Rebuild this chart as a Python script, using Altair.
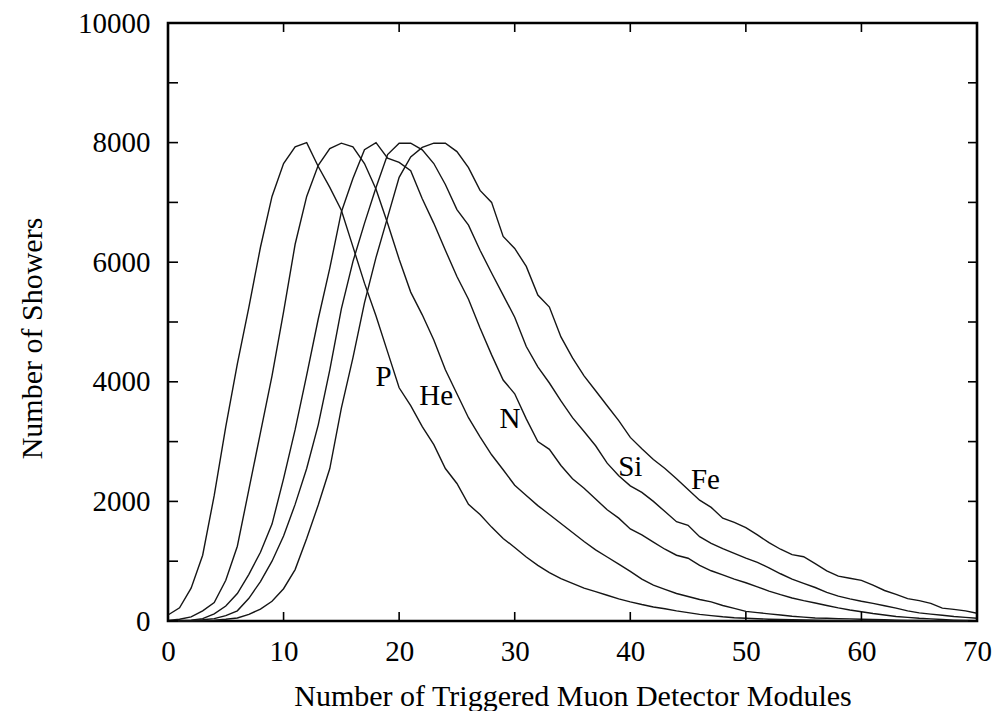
import altair as alt
import pandas as pd

# ---- data ----
modules = list(range(0, 71))

p_counts = [100, 220, 550, 1100, 2100, 3250, 4300, 5250, 6250, 7100, 7650, 7930, 8000,
            7600, 7250, 6870, 6260, 5650, 5100, 4500, 3900,
            3600, 3250, 2950, 2550, 2300, 1950, 1780, 1570, 1380, 1230,
            1070, 930, 810, 710, 630, 550, 490, 430, 370, 320,
            275, 235, 205, 170, 140, 110, 90, 70, 55, 45,
            38, 30, 25, 20, 16, 12, 10, 8, 6, 5,
            4, 3, 3, 2, 2, 1, 1, 1, 0, 0]

he_counts = [10, 30, 70, 170, 310, 680, 1250, 2200, 3150, 4100, 5170,
             6300, 7100, 7620, 7900, 7990, 7930,
             7650, 7220, 6650, 6050, 5500, 5120, 4700, 4200, 3800, 3400, 3080, 2780, 2530, 2270,
             2100, 1930, 1780, 1630, 1480, 1330, 1190, 1070, 950, 830,
             700, 600, 530, 460, 410, 360, 320, 260, 210, 160,
             140, 120, 100, 80, 65, 50, 45, 40, 35, 30,
             25, 20, 15, 10, 8, 6, 4, 3, 2, 1]

n_counts = [0, 5, 15, 40, 120, 250, 460, 780, 1150, 1620, 2380,
            3200, 4110, 5050, 5900, 6840, 7400, 7880, 8000,
            7740, 7670, 7530, 7060, 6650, 6200, 5760, 5380,
            4900, 4450, 4030, 3800,
            3380, 3000, 2870, 2600, 2380, 2220, 2040, 1860, 1720, 1540,
            1440, 1320, 1200, 1100, 1050, 930, 840, 770, 700, 640,
            570, 500, 440, 385, 340, 300, 260, 220, 185, 155,
            125, 100, 75, 60, 45, 35, 25, 15, 8, 3]

si_counts = [0, 0, 5, 20, 40, 90, 170, 380, 660, 1000, 1420,
             1950, 2550, 3280, 4200, 5220, 6010, 6650, 7250, 7800, 7990, 7990,
             7880, 7650, 7300, 6880, 6620, 6200, 5820, 5450, 5080,
             4590, 4250, 3980, 3680, 3400, 3170, 2930, 2640, 2430, 2260,
             2150, 2000, 1830, 1660, 1600, 1410, 1300, 1210, 1130, 1050,
             980, 890, 790, 700, 630, 560, 480, 415, 370, 330,
             295, 255, 215, 170, 135, 115, 95, 75, 60, 45]

fe_counts = [0, 0, 0, 5, 15, 30, 50, 110, 200, 330, 540, 860,
             1380, 1940, 2550, 3560, 4400, 5320, 6080, 6750, 7420, 7760, 7920, 7990, 7990,
             7850, 7580, 7200, 7000, 6430, 6230, 5930, 5450,
             5250, 4750, 4400, 4100, 3850, 3600, 3350, 3070,
             2880, 2700, 2550, 2380, 2200, 2020, 1900, 1720, 1650, 1560,
             1440, 1310, 1200, 1110, 1075, 960, 840, 750, 715, 680,
             600, 510, 445, 375, 340, 295, 215, 195, 170, 130]

series_names = ["P", "He", "N", "Si", "Fe"]
series_values = [p_counts, he_counts, n_counts, si_counts, fe_counts]

label_text = ["P", "He", "N", "Si", "Fe"]
label_x = [18.65, 23.2, 29.6, 40.0, 46.5]
label_y = [4080, 3760, 3380, 2570, 2360]

x_ticks = [0, 10, 20, 30, 40, 50, 60, 70]
y_labels = [0, 2000, 4000, 6000, 8000, 10000]
y_ticks = [0, 1000, 2000, 3000, 4000, 5000, 6000, 7000, 8000, 9000, 10000]

# ---- tables ----
rows = []
for name, vals in zip(series_names, series_values):
    for xv, yv in zip(modules, vals):
        rows.append({"series": name, "modules": xv, "showers": yv})
df = pd.DataFrame(rows)
labels_df = pd.DataFrame({"text": label_text, "modules": label_x, "showers": label_y})
xt_df = pd.DataFrame({"modules": x_ticks})
yt_df = pd.DataFrame({"showers": y_ticks})

W, H = 809, 598
XT = "Number of Triggered Muon Detector Modules"
YT = "Number of Showers"
xs = alt.Scale(domain=[0, 70], nice=False, zero=False)
ys = alt.Scale(domain=[0, 10000], nice=False)
FONT = "Liberation Serif"

x_axis = alt.Axis(values=x_ticks, format="d", labelPadding=16, titlePadding=15,
                  labelFlush=False, labelOverlap=False)
y_axis = alt.Axis(values=y_labels, format="d", labelPadding=18, titlePadding=30, titleY=315,
                  labelFlush=False, labelOverlap=False)

lines = alt.Chart(df).mark_line(color="#151515", strokeWidth=1.4).encode(
    x=alt.X("modules:Q", scale=xs, axis=x_axis, title=XT),
    y=alt.Y("showers:Q", scale=ys, axis=y_axis, title=YT),
    detail="series:N",
)

tick_kw = dict(color="black", strokeWidth=1.6)
bottom_ticks = alt.Chart(xt_df).mark_rule(**tick_kw).encode(
    x=alt.X("modules:Q", scale=xs, title=XT), y=alt.value(H), y2=alt.value(H - 9))
top_ticks = alt.Chart(xt_df).mark_rule(**tick_kw).encode(
    x=alt.X("modules:Q", scale=xs, title=XT), y=alt.value(0), y2=alt.value(9))
left_ticks = alt.Chart(yt_df).mark_rule(**tick_kw).encode(
    y=alt.Y("showers:Q", scale=ys, title=YT), x=alt.value(0), x2=alt.value(10))
right_ticks = alt.Chart(yt_df).mark_rule(**tick_kw).encode(
    y=alt.Y("showers:Q", scale=ys, title=YT), x=alt.value(W), x2=alt.value(W - 9))

labels = alt.Chart(labels_df).mark_text(
    font=FONT, fontSize=29, color="black", align="center", baseline="middle"
).encode(
    x=alt.X("modules:Q", scale=xs, title=XT),
    y=alt.Y("showers:Q", scale=ys, title=YT),
    text="text:N",
)

chart = alt.layer(lines, bottom_ticks, top_ticks, left_ticks, right_ticks, labels).properties(
    width=W, height=H,
    autosize=alt.AutoSizeParams(type="none"),
    padding={"left": 168, "top": 23, "right": 19, "bottom": 90},
    background="white",
).configure_view(
    stroke="black", strokeWidth=2.6
).configure_axis(
    grid=False, ticks=False, domain=False,
    labelFont=FONT, labelFontSize=29, labelColor="black",
    titleFont=FONT, titleFontSize=30, titleFontWeight="normal", titleColor="black",
)

chart.save("out.html", embed_options={"renderer": "svg", "actions": False})
